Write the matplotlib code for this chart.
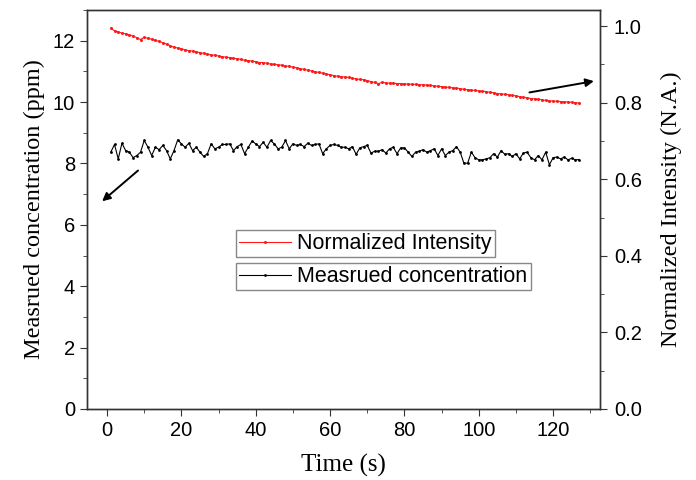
import matplotlib

matplotlib.use("Agg")
import matplotlib.pyplot as plt
from matplotlib.ticker import MultipleLocator, FormatStrFormatter

# sampling time, one point per second
time_s = list(range(1, 128))

# normalized intensity (right axis, N.A.)
intensity = [
    0.994, 0.988, 0.985, 0.982, 0.980, 0.977, 0.974, 0.970, 0.965, 0.971,
    0.968, 0.966, 0.963, 0.960, 0.957, 0.953, 0.949, 0.945, 0.943, 0.941,
    0.938, 0.936, 0.935, 0.933, 0.931, 0.929, 0.927, 0.925, 0.924, 0.922,
    0.920, 0.919, 0.918, 0.916, 0.915, 0.913, 0.911, 0.910, 0.909, 0.907,
    0.905, 0.905, 0.903, 0.901, 0.900, 0.899, 0.898, 0.896, 0.895, 0.893,
    0.891, 0.889, 0.887, 0.885, 0.883, 0.881, 0.879, 0.877, 0.875, 0.873,
    0.871, 0.869, 0.868, 0.867, 0.866, 0.864, 0.862, 0.861, 0.860, 0.858,
    0.855, 0.853, 0.850, 0.853, 0.852, 0.851, 0.851, 0.850, 0.850, 0.849,
    0.849, 0.848, 0.848, 0.847, 0.847, 0.846, 0.845, 0.844, 0.843, 0.842,
    0.841, 0.840, 0.839, 0.838, 0.837, 0.835, 0.834, 0.833, 0.832, 0.831,
    0.830, 0.829, 0.827, 0.826, 0.824, 0.823, 0.822, 0.821, 0.819, 0.818,
    0.816, 0.814, 0.813, 0.811, 0.810, 0.809, 0.808, 0.806, 0.805, 0.804,
    0.804, 0.803, 0.802, 0.802, 0.801, 0.800, 0.799,
]

# measured concentration (left axis, ppm)
concentration = [
    8.37, 8.62, 8.15, 8.66, 8.42, 8.37, 8.19, 8.26, 8.37, 8.75,
    8.53, 8.26, 8.53, 8.45, 8.59, 8.42, 8.15, 8.42, 8.77, 8.64,
    8.53, 8.66, 8.42, 8.53, 8.37, 8.23, 8.32, 8.64, 8.48, 8.53,
    8.62, 8.62, 8.64, 8.42, 8.55, 8.62, 8.32, 8.53, 8.73, 8.64,
    8.55, 8.69, 8.53, 8.75, 8.64, 8.48, 8.53, 8.75, 8.48, 8.64,
    8.59, 8.62, 8.55, 8.66, 8.59, 8.62, 8.64, 8.32, 8.48, 8.59,
    8.62, 8.59, 8.53, 8.53, 8.48, 8.55, 8.30, 8.51, 8.55, 8.59,
    8.34, 8.40, 8.40, 8.45, 8.34, 8.48, 8.53, 8.32, 8.51, 8.51,
    8.37, 8.23, 8.37, 8.40, 8.45, 8.37, 8.42, 8.48, 8.26, 8.48,
    8.26, 8.37, 8.42, 8.55, 8.37, 8.01, 8.01, 8.37, 8.19, 8.12,
    8.12, 8.15, 8.19, 8.32, 8.21, 8.42, 8.30, 8.32, 8.23, 8.32,
    8.15, 8.34, 8.37, 8.19, 8.12, 8.26, 8.12, 8.37, 7.96, 8.19,
    8.21, 8.15, 8.21, 8.12, 8.17, 8.12, 8.13,
]

SANS = ["Liberation Sans", "DejaVu Sans"]
SERIF = ["Liberation Serif", "DejaVu Serif"]

plt.rcParams.update({
    "font.family": SANS,
    "axes.linewidth": 1.0,
    "axes.edgecolor": "#333333",
    "xtick.direction": "out",
    "ytick.direction": "out",
    "xtick.major.size": 5,
    "ytick.major.size": 5,
    "xtick.minor.size": 3,
    "ytick.minor.size": 3,
    "xtick.color": "#333333",
    "ytick.color": "#333333",
    "xtick.labelcolor": "black",
    "ytick.labelcolor": "black",
})

fig = plt.figure(figsize=(6.96, 4.80), dpi=100)
ax = fig.add_axes([0.125, 0.148, 0.737, 0.831])
ax2 = ax.twinx()

(l_conc,) = ax.plot(time_s, concentration, color="black", lw=0.8,
                    marker="o", ms=2.0, mew=0, label="Measrued concentration")
(l_int,) = ax2.plot(time_s, intensity, color="#ff1a1a", lw=0.8,
                    marker="o", ms=2.2, mew=0, label="Normalized Intensity")

ax.set_xlim(-5.4, 132.6)
ax.set_ylim(0, 13)
ax2.set_ylim(0, 1.042)

ax.xaxis.set_major_locator(MultipleLocator(20))
ax.xaxis.set_minor_locator(MultipleLocator(10))
ax.yaxis.set_major_locator(MultipleLocator(2))
ax.yaxis.set_minor_locator(MultipleLocator(1))
ax2.yaxis.set_major_locator(MultipleLocator(0.2))
ax2.yaxis.set_minor_locator(MultipleLocator(0.1))
ax2.yaxis.set_major_formatter(FormatStrFormatter("%.1f"))

ax.tick_params(labelsize=14.5)
ax2.tick_params(labelsize=14.5, pad=5)

ax.set_xlabel("Time (s)", fontsize=18, family=SERIF, labelpad=10)
ax.set_ylabel("Measrued concentration (ppm)", fontsize=17.5, family=SERIF, labelpad=6)
ax2.set_ylabel("Normalized Intensity (N.A.)", fontsize=17.5, family=SERIF, labelpad=14)

# pointer arrows to the matching axes
arrow = dict(arrowstyle="-|>", color="black", lw=1.4, mutation_scale=12)
ax.annotate("", xy=(-1.9, 6.71), xytext=(8.9, 7.83), arrowprops=arrow)
ax.annotate("", xy=(131.7, 10.7), xytext=(112.9, 10.3), arrowprops=arrow,
            annotation_clip=False)

leg_kw = dict(loc="upper left", fontsize=15.5, fancybox=False, framealpha=1,
              edgecolor="#888888", borderaxespad=0, borderpad=0.15,
              handlelength=2.4, handletextpad=0.3, numpoints=1,
              bbox_transform=fig.transFigure)
leg1 = ax2.legend(handles=[l_int], bbox_to_anchor=(0.339, 0.521), **leg_kw)
leg1.get_frame().set_linewidth(1.0)
leg2 = ax2.legend(handles=[l_conc], bbox_to_anchor=(0.339, 0.452), **leg_kw)
leg2.get_frame().set_linewidth(1.0)
ax2.add_artist(leg1)

fig.savefig("out.png", dpi=100)
